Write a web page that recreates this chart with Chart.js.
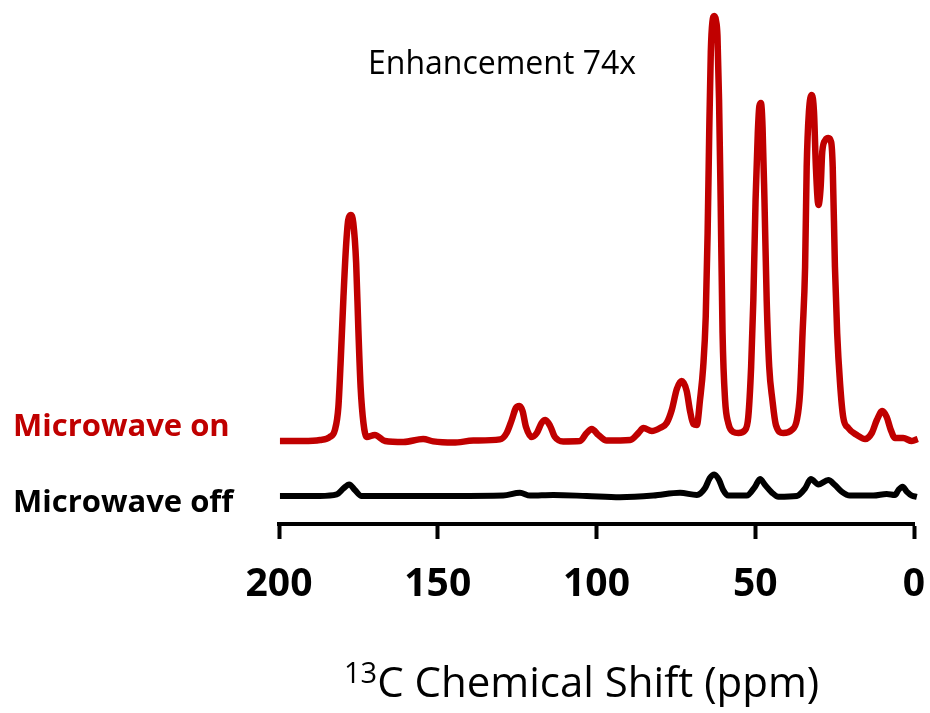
<!DOCTYPE html>
<html>
<head>
<meta charset="utf-8">
<script src="https://cdn.jsdelivr.net/npm/chart.js@4/dist/chart.umd.min.js"></script>
<style>
  html, body { margin: 0; padding: 0; background: #ffffff; }
  #wrap { position: relative; width: 930px; height: 713px; overflow: hidden; }
  #c { position: absolute; left: 0; top: 0; }
  .lbl { position: absolute; white-space: nowrap; line-height: 1; font-family: "Open Sans", sans-serif; }
</style>
</head>
<body>
<div id="wrap">
  <canvas id="c" width="930" height="713"></canvas>
  <div class="lbl" id="lblOn" style="left:13px; top:409px; font-size:31px; font-weight:700; color:#C00000;">Microwave on</div>
  <div class="lbl" id="lblOff" style="left:13px; top:485px; font-size:31px; font-weight:700; color:#000;">Microwave off</div>
  <div class="lbl" id="lblEnh" style="left:368px; top:46px; font-size:32px; color:#000;">Enhancement 74x</div>
  <div class="lbl" id="lblTitle" style="left:344px; top:660px; font-size:42px; color:#000;"><span style="font-size:29px; position:relative; top:-14px;">13</span>C Chemical Shift (ppm)</div>
</div>
<script>
// ---- data ----
const tickValues = [200, 150, 100, 50, 0];

const redPpm = [199.7, 192.4, 187.1, 184.0, 182.4, 181.3, 180.6, 179.7, 178.9, 178.2, 177.4, 176.6, 175.7, 175.0, 174.3, 173.4, 172.4, 169.8, 166.6, 160.8, 154.6, 151.4, 145.1, 138.8, 130.4, 128.3, 126.7, 125.4, 124.3, 123.3, 122.2, 120.4, 118.8, 117.3, 116.1, 114.6, 113.1, 110.5, 105.2, 103.1, 101.5, 99.4, 96.8, 89.4, 86.8, 85.2, 82.6, 80.0, 77.9, 76.3, 74.7, 73.2, 71.6, 70.6, 69.5, 68.4, 67.4, 66.4, 65.6, 65.0, 64.5, 64.0, 63.5, 62.9, 62.4, 61.9, 61.4, 60.9, 60.3, 59.5, 58.5, 56.9, 55.3, 53.2, 52.2, 51.3, 50.6, 49.9, 49.2, 48.7, 48.2, 47.7, 47.1, 46.4, 45.6, 44.6, 43.5, 41.2, 38.5, 36.9, 35.9, 35.1, 34.3, 33.8, 33.1, 32.2, 31.5, 30.9, 30.1, 29.4, 28.9, 27.9, 27.0, 26.1, 25.6, 24.9, 24.2, 23.3, 22.3, 20.7, 18.0, 15.4, 13.3, 11.7, 10.0, 8.6, 7.3, 6.0, 3.4, 0.7, -1.2];
const redIntensity = [0, 0, 0.25, 1.0, 2.75, 8.5, 19.5, 36, 48.5, 55.25, 56.5, 54.5, 44.5, 27.75, 13.5, 4.5, 1, 1.5, 0, -0.25, 0.5, -0.1, -0.4, 0.1, 0.4, 2, 5.25, 8.25, 8.75, 7.5, 3.5, 1, 2, 4.5, 5.25, 3.75, 1, -0.1, 0, 2, 3, 1.5, 0.1, 0.25, 2, 3.25, 2.5, 3.25, 4.5, 7.75, 13, 15, 12.5, 7.75, 4.25, 4, 10.25, 18.5, 31, 52, 77, 97.25, 104.75, 106.25, 105.25, 101.25, 85.25, 60.25, 27, 10.25, 4.5, 2.25, 2, 2.75, 6, 18.5, 35.25, 60.25, 77, 83.75, 84.5, 78.5, 60.25, 35.25, 18.5, 10.25, 4, 2, 2.75, 5.25, 12, 27, 43.5, 68.5, 82.25, 86.5, 82.25, 68.5, 59, 63.5, 72.25, 75.25, 75.75, 74.75, 68.5, 43.5, 27, 14.5, 6, 3.25, 1.5, 0.5, 2, 5.25, 7.5, 6, 2.75, 0.75, 0.75, 0, 0.5];

const blackPpm = [199.7, 187.1, 181.8, 179.7, 177.9, 176.1, 174.0, 160.9, 145.1, 129.4, 124.1, 120.9, 113.6, 103.1, 92.6, 82.1, 73.7, 68.4, 65.8, 64.3, 62.9, 61.4, 60.1, 58.5, 52.7, 50.1, 48.5, 46.9, 44.8, 42.7, 36.9, 34.3, 32.5, 30.1, 27.0, 24.9, 22.8, 20.2, 12.8, 8.6, 6.0, 4.9, 3.6, 2.3, 0.7, -0.9];
const blackIntensity = [0, 0, 0.4, 1.9, 2.9, 1.5, 0, 0, 0, 0.1, 0.8, 0.1, 0.25, 0, -0.3, 0.1, 0.8, 0.25, 2, 4.5, 5.4, 4, 1.5, 0.1, 0.1, 2.3, 4.25, 2.75, 0.9, -0.2, 0, 1.9, 4.25, 2.9, 4, 2.75, 1.1, 0.1, 0.1, 0.5, 0.25, 1.5, 2.3, 1.1, 0.1, -0.2];

// vertical stacking offsets of the two traces (layout)
const redOffset = 20.75;
const blackOffset = 7;

const redPoints = redPpm.map((p, i) => ({ x: p, y: redIntensity[i] + redOffset }));
const blackPoints = blackPpm.map((p, i) => ({ x: p, y: blackIntensity[i] + blackOffset }));

new Chart(document.getElementById('c'), {
  type: 'line',
  data: {
    datasets: [
      {
        label: 'Microwave on',
        data: redPoints,
        borderColor: '#C00000',
        borderWidth: 6.5,
        pointRadius: 0,
        cubicInterpolationMode: 'monotone',
        fill: false,
        clip: false
      },
      {
        label: 'Microwave off',
        data: blackPoints,
        borderColor: '#000000',
        borderWidth: 6,
        pointRadius: 0,
        cubicInterpolationMode: 'monotone',
        fill: false,
        clip: false
      }
    ]
  },
  options: {
    responsive: false,
    animation: false,
    layout: { padding: { left: 279, right: 16, top: 4, bottom: 0 } },
    plugins: { legend: { display: false }, tooltip: { enabled: false } },
    scales: {
      x: {
        type: 'linear',
        reverse: true,
        min: 0,
        max: 200,
        afterBuildTicks: (scale) => { scale.ticks = tickValues.map(v => ({ value: v })); },
        afterFit: (scale) => { scale.height = 189; scale.paddingLeft = 0; scale.paddingRight = 0; },
        border: { display: true, color: '#000', width: 4 },
        grid: { display: true, drawOnChartArea: false, drawTicks: true, tickLength: 15, tickWidth: 4, tickColor: '#000', color: '#000' },
        ticks: {
          color: '#000',
          padding: 26,
          maxRotation: 0,
          autoSkip: false,
          font: { family: 'Open Sans', size: 39, weight: 'bold', lineHeight: 1 }
        }
      },
      y: {
        display: false,
        min: 0,
        max: 130
      }
    }
  }
});
</script>
</body>
</html>
